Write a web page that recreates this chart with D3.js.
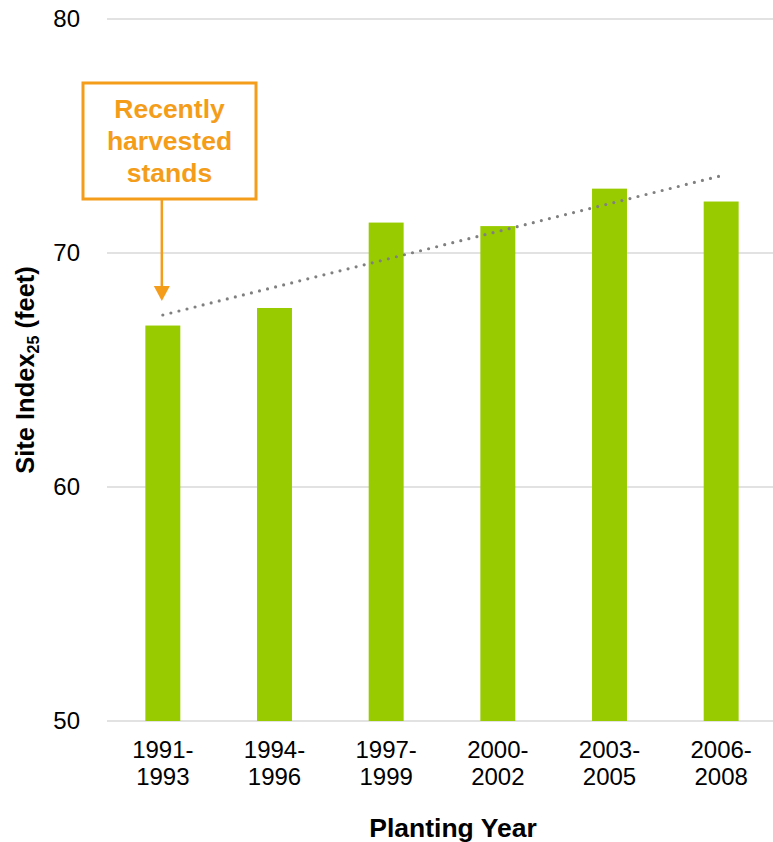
<!DOCTYPE html>
<html>
<head>
<meta charset="utf-8">
<script src="https://cdn.jsdelivr.net/npm/d3@7"></script>
<style>
    body { margin: 0; background: #fff; }
    svg { display: block; font-family: Arial, "Liberation Sans", sans-serif; }
</style>
</head>
<body>
<div id="chart"></div>
<script>
// data
let periods = ["1991-1993", "1994-1996", "1997-1999", "2000-2002", "2003-2005", "2006-2008"];
let siteIndex = [66.9, 67.65, 71.3, 71.15, 72.75, 72.2];
let yTicks = [50, 60, 70, 80];
let noteLines = ["Recently", "harvested", "stands"];

let W = 773, H = 842;
let m = {top: 19, right: -4, bottom: 121, left: 107};

let svg = d3.select("#chart")
    .append("svg")
    .attr("width", W)
    .attr("height", H);

let x = d3.scaleBand()
    .domain(periods)
    .range([m.left, W - m.right])
    .paddingInner(0.687)
    .paddingOuter(0.687 / 2);

let y = d3.scaleLinear()
    .domain([50, 80])
    .range([H - m.bottom, m.top]);

let orange = "#F49D1A";

// gridlines
svg.append("g")
    .selectAll("line")
    .data(yTicks)
    .enter()
    .append("line")
    .attr("x1", m.left)
    .attr("x2", W)
    .attr("y1", d => y(d))
    .attr("y2", d => y(d))
    .attr("stroke", "#d9d9d9")
    .attr("stroke-width", 1.5);

// y tick labels
let yAxis = svg.append("g")
    .attr("transform", "translate(" + (m.left - 27) + ",0)")
    .call(d3.axisLeft(y).tickValues(yTicks).tickSize(0).tickPadding(0));
yAxis.select(".domain").remove();
yAxis.selectAll("text")
    .attr("font-size", 24)
    .attr("font-family", "Arial, 'Liberation Sans', sans-serif")
    .attr("fill", "#000");

// bars
svg.append("g")
    .selectAll("rect")
    .data(periods)
    .enter()
    .append("rect")
    .attr("x", d => x(d))
    .attr("y", (d, i) => y(siteIndex[i]))
    .attr("width", x.bandwidth())
    .attr("height", (d, i) => y(50) - y(siteIndex[i]))
    .attr("fill", "#99CC00");

// linear trend line (least squares over the bars)
let n = siteIndex.length;
let xs = d3.range(1, n + 1);
let mx = d3.mean(xs), my = d3.mean(siteIndex);
let slope = d3.sum(xs, (v, i) => (v - mx) * (siteIndex[i] - my)) / d3.sum(xs, v => (v - mx) * (v - mx));
let icpt = my - slope * mx;
let cx = d => x(d) + x.bandwidth() / 2;

svg.append("line")
    .attr("x1", cx(periods[0]))
    .attr("y1", y(icpt + slope * 1))
    .attr("x2", cx(periods[n - 1]))
    .attr("y2", y(icpt + slope * n))
    .attr("stroke", "#808080")
    .attr("stroke-width", 3.2)
    .attr("stroke-linecap", "round")
    .attr("stroke-dasharray", "0 8.3");

// x tick labels, two lines each
let xl = svg.append("g")
    .selectAll("text")
    .data(periods)
    .enter()
    .append("text")
    .attr("text-anchor", "middle")
    .attr("font-size", 24)
    .attr("fill", "#000");
xl.append("tspan")
    .attr("x", cx)
    .attr("y", 758)
    .text(d => d.split("-")[0] + "-");
xl.append("tspan")
    .attr("x", cx)
    .attr("y", 785)
    .text(d => d.split("-")[1]);

// axis titles
svg.append("text")
    .attr("x", 453)
    .attr("y", 837)
    .attr("text-anchor", "middle")
    .attr("font-size", 26.5)
    .attr("font-weight", "bold")
    .text("Planting Year");

let yt = svg.append("text")
    .attr("transform", "translate(34," + ((y(50) + y(80)) / 2) + ") rotate(-90)")
    .attr("text-anchor", "middle")
    .attr("font-size", 25.5)
    .attr("font-weight", "bold");
yt.append("tspan").text("Site Index");
yt.append("tspan").attr("font-size", 16).attr("dy", 5).text("25");
yt.append("tspan").attr("dy", -5).text(" (feet)");

// annotation box + arrow
let note = svg.append("g");
note.append("rect")
    .attr("x", 83)
    .attr("y", 83)
    .attr("width", 173)
    .attr("height", 116)
    .attr("fill", "#fff")
    .attr("stroke", orange)
    .attr("stroke-width", 3);
note.selectAll("text")
    .data(noteLines)
    .enter()
    .append("text")
    .attr("x", 169.5)
    .attr("y", (d, i) => 118 + i * 32)
    .attr("text-anchor", "middle")
    .attr("font-size", 26.5)
    .attr("font-weight", "bold")
    .attr("fill", orange)
    .text(d => d);

let ax = cx(periods[0]) - 1;
note.append("line")
    .attr("x1", ax)
    .attr("x2", ax)
    .attr("y1", 200)
    .attr("y2", 288)
    .attr("stroke", orange)
    .attr("stroke-width", 2.5);
note.append("path")
    .attr("d", "M" + (ax - 8) + ",286 L" + (ax + 8) + ",286 L" + ax + ",301 Z")
    .attr("fill", orange);
</script>
</body>
</html>
